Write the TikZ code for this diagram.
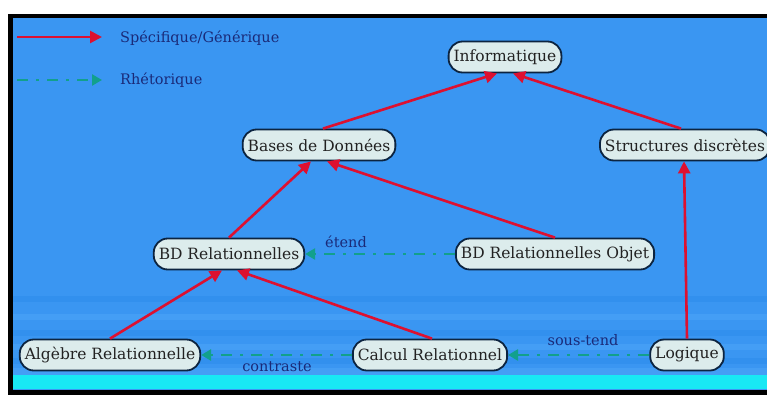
\documentclass[tikz,border=0pt]{standalone}
\usepackage{fontspec}
\setmainfont{DejaVu Serif}
\usetikzlibrary{arrows.meta,calc}
\definecolor{bgblue}{HTML}{3A96F2}
\definecolor{bgblue2}{HTML}{3290EE}
\definecolor{bgblue3}{HTML}{449EF5}
\definecolor{cyanband}{HTML}{18E8F4}
\definecolor{nodefill}{HTML}{DCECEC}
\definecolor{nodeline}{HTML}{0C2440}
\definecolor{redarrow}{HTML}{DD1030}
\definecolor{tealarrow}{HTML}{12A08C}
\definecolor{labelblue}{HTML}{1A2A78}
\definecolor{textgray}{HTML}{222222}
\tikzset{
  concept/.style={draw=nodeline, line width=1.8pt, fill=nodefill, rounded corners=14pt,
    minimum height=31pt, inner xsep=5pt, inner ysep=2pt, text=textgray,
    font=\fontsize{15.5}{17}\selectfont},
  spec/.style={draw=redarrow, line width=2.6pt, -{Triangle[length=12pt,width=12pt]}},
  rhet/.style={draw=tealarrow, line width=2.8pt, dash pattern=on 11pt off 8pt on 3pt off 8pt,
    -{Triangle[length=10pt,width=11pt]}},
  lbl/.style={text=labelblue, font=\fontsize{14.5}{16}\selectfont, inner sep=1pt},
}
\begin{document}
\begin{tikzpicture}[x=1pt,y=-1pt]
\useasboundingbox (0,0) rectangle (767,395);
\fill[white] (0,0) rectangle (767,395);
\fill[black] (8,14) rectangle (767,395);
\fill[bgblue] (13,18) rectangle (767,390);
% bottom stripes
\fill[bgblue2] (13,296) rectangle (767,302);
\fill[bgblue3] (13,314) rectangle (767,320);
\fill[bgblue2] (13,330) rectangle (767,336);
\fill[bgblue3] (13,344) rectangle (767,350);
\fill[bgblue2] (13,358) rectangle (767,364);
\fill[bgblue3] (13,368) rectangle (767,375);
\fill[cyanband] (13,375) rectangle (767,389);

% legend
\coordinate (l1a) at (17,37);
\coordinate (l1b) at (102,37);
\coordinate (l2a) at (17,80);
\coordinate (l2b) at (102,80);
\draw[spec] (l1a) -- (l1b);
\draw[rhet] (l2a) -- (l2b);
\node[lbl, anchor=west] (leg1) at (119,38) {Spécifique/Générique};
\node[lbl, anchor=west] (leg2) at (119,80) {Rhétorique};

% nodes
\node[concept] (info) at (505,57) {Informatique};
\node[concept] (bases) at (319,145) {Bases de Données};
\node[concept] (struct) at (685,145) {Structures discrètes};
\node[concept] (bdr) at (229,254) {BD Relationnelles};
\node[concept] (bdro) at (555,254) {BD Relationnelles Objet};
\node[concept] (alg) at (110,355) {Algèbre Relationnelle};
\node[concept] (calc) at (430,355) {Calcul Relationnel};
\node[concept] (log) at (687,355) {Logique};

% specific/generic
\draw[spec] ([xshift=4pt]bases.north) -- ([xshift=-8pt]info.south);
\draw[spec] ([xshift=-4pt]struct.north) -- ([xshift=8pt]info.south);
\draw[spec] (bdr.north) -- ([xshift=-8pt]bases.south);
\draw[spec] (bdro.north) -- ([xshift=8pt]bases.south);
\draw[spec] (alg.north) -- ([xshift=-7pt]bdr.south);
\draw[spec] ([xshift=2pt]calc.north) -- ([xshift=8pt]bdr.south);
\draw[spec] (log.north) -- ([xshift=-1pt]struct.south);

% rhetoric
\draw[rhet] (bdro.west) -- (bdr.east);
\draw[rhet] (log.west) -- (calc.east);
\draw[rhet] (calc.west) -- (alg.east);
\node[lbl] (l-etend) at (346,242) {étend};
\node[lbl] (l-sous) at (583,340) {sous-tend};
\node[lbl] (l-contr) at (277,367) {contraste};
\end{tikzpicture}
\end{document}
